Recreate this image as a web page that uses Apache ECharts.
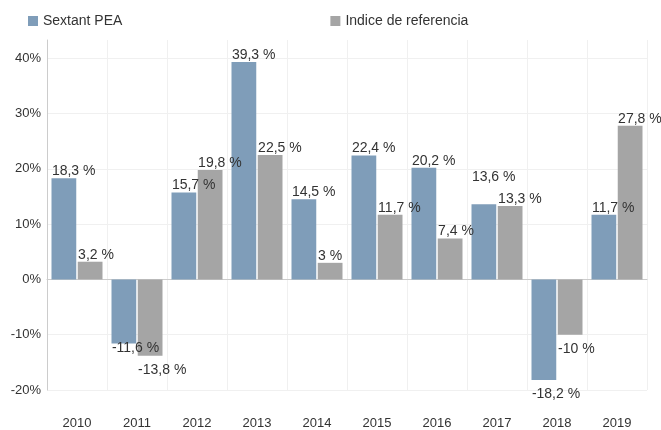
<!DOCTYPE html>
<html>
<head>
<meta charset="utf-8">
<script src="https://cdn.jsdelivr.net/npm/echarts@6/dist/echarts.min.js"></script>
<style>
	html, body { margin: 0; padding: 0; background: #fff; }
	#chart { width: 661px; height: 430px; }
</style>
</head>
<body>
<div id="chart"></div>
<script>
var years = ['2010', '2011', '2012', '2013', '2014', '2015', '2016', '2017', '2018', '2019'];
var sextant = [18.3, -11.6, 15.7, 39.3, 14.5, 22.4, 20.2, 13.6, -18.2, 11.7];
var indice = [3.2, -13.8, 19.8, 22.5, 3, 11.7, 7.4, 13.3, -10, 27.8];
var seriesNames = ['Sextant PEA', 'Indice de referencia'];

// label distance tweaks where the original moved labels to avoid overlap
var sextantLabelDist = { 1: -2, 7: 20 };
var indiceLabelDist = {};

function fmt(v) {
	return String(v).replace('.', ',') + ' %';
}

function buildData(values, tweaks) {
	var out = [];
	for (var i = 0; i < values.length; i++) {
		var d = values[i] >= 0 ? 0 : 7;
		if (tweaks[i] !== undefined) d = tweaks[i];
		out.push({ value: values[i], label: { distance: d } });
	}
	return out;
}

var labelStyle = {
	show: true,
	position: 'outside',
	align: 'left',
	offset: [-12, 0],
	color: '#333',
	fontSize: 14,
	fontFamily: 'Liberation Sans',
	formatter: function(p) { return fmt(p.value); }
};

var myChart = echarts.init(document.getElementById('chart'));

myChart.setOption({
	animation: false,
	textStyle: { fontFamily: 'Liberation Sans' },
	legend: {
		left: 23,
		top: 9,
		itemGap: 208,
		itemWidth: 10,
		itemHeight: 10,
		icon: 'rect',
		textStyle: { color: '#333', fontSize: 14, fontFamily: 'Liberation Sans' },
		data: seriesNames
	},
	grid: { left: 47, right: 14, top: 40, bottom: 39, containLabel: false },
	xAxis: {
		type: 'category',
		data: years,
		axisLine: { onZero: true, lineStyle: { color: '#ccc' } },
		axisTick: { show: false },
		axisLabel: { color: '#333', fontSize: 13, margin: 27 },
		splitLine: { show: true, lineStyle: { color: '#f0f0f0' } }
	},
	yAxis: {
		type: 'value',
		min: -20,
		max: 43.3,
		interval: 10,
		axisLine: { show: true, lineStyle: { color: '#ccc' } },
		axisTick: { show: false },
		axisLabel: {
			color: '#333',
			fontSize: 13,
			margin: 6,
			showMaxLabel: false,
			formatter: function(v) { return v % 10 === 0 ? v + '%' : ''; }
		},
		splitLine: { show: true, showMaxLine: false, lineStyle: { color: '#f0f0f0' } }
	},
	series: [
		{
			name: seriesNames[0],
			type: 'bar',
			barGap: '6%',
			barCategoryGap: '15%',
			itemStyle: { color: '#7f9db9' },
			label: labelStyle,
			data: buildData(sextant, sextantLabelDist)
		},
		{
			name: seriesNames[1],
			type: 'bar',
			barGap: '6%',
			barCategoryGap: '15%',
			itemStyle: { color: '#a5a5a5' },
			label: labelStyle,
			data: buildData(indice, indiceLabelDist)
		}
	]
});
</script>
</body>
</html>
